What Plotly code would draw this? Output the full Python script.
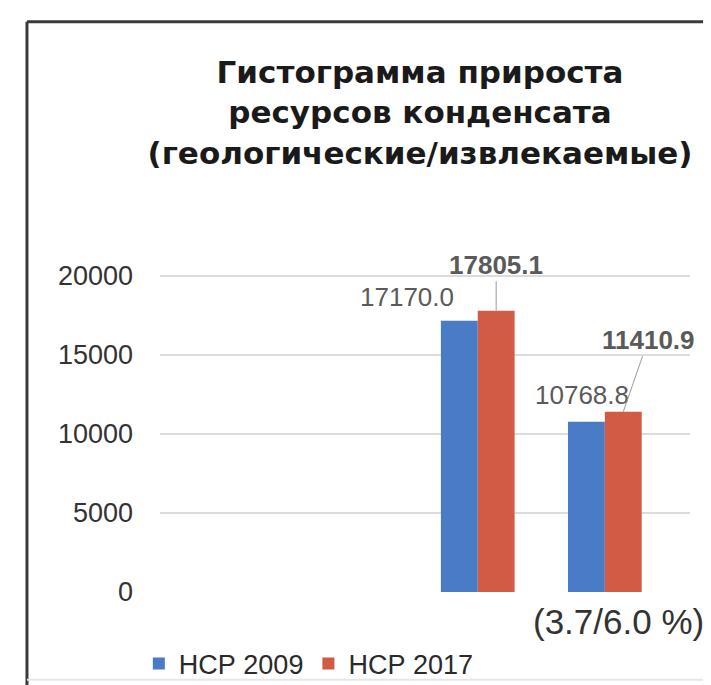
import plotly.graph_objects as go

categories = ["геологические", "извлекаемые"]
series_names = ["НСР 2009", "НСР 2017"]
values_2009 = [17170.0, 10768.8]
values_2017 = [17805.1, 11410.9]
tick_vals = [0, 5000, 10000, 15000, 20000]
tick_text = ["0", "5000", "10000", "15000", "20000"]
title_text = "Гистограмма прироста<br>ресурсов конденсата<br>(геологические/извлекаемые)"
note_text = "(3.7/6.0 %)"

blue = "#4a7bc6"
red = "#d25b45"
bargap = 0.42
w = (1 - bargap) / 2

fig = go.Figure()
fig.add_trace(go.Bar(x=categories, y=values_2009, name=series_names[0],
                     marker=dict(color=blue, line=dict(width=0))))
fig.add_trace(go.Bar(x=categories, y=values_2017, name=series_names[1],
                     marker=dict(color=red, line=dict(width=0))))

lab_font = dict(family="Liberation Sans, Arial, sans-serif", size=26, color="#5a5a5a")
# blue labels
for i, v in enumerate(values_2009):
    shifts = [(-52, 24), (-4, 27)][i]
    fig.add_annotation(x=i - w / 2, y=v, xref="x", yref="y", text=f"{v:.1f}",
                       showarrow=False, xshift=shifts[0], yshift=shifts[1],
                       font=lab_font)
# red labels (bold, with leader lines)
for i, v in enumerate(values_2017):
    off = [(0, -46), (25, -72)][i]
    fig.add_annotation(x=i + w / 2, y=v, xref="x", yref="y", text=f"<b>{v:.1f}</b>",
                       showarrow=True, arrowhead=0, arrowwidth=1, arrowcolor="#9a9a9a",
                       ax=off[0], ay=off[1], font=lab_font, standoff=0)

fig.add_annotation(x=1.030, y=-0.084, xref="paper", yref="paper", text=note_text,
                   showarrow=False, xanchor="right", yanchor="middle",
                   font=dict(family="Liberation Sans, Arial, sans-serif", size=35, color="#333333"))

# outer frame (left and top dark, bottom light)
fig.add_shape(type="line", xref="paper", yref="paper", x0=-0.251, x1=-0.251, y0=-0.3, y1=1.597,
              line=dict(color="#3a3a3a", width=3), layer="below")
fig.add_shape(type="line", xref="paper", yref="paper", x0=-0.251, x1=1.1, y0=1.597, y1=1.597,
              line=dict(color="#3a3a3a", width=3), layer="below")
fig.add_shape(type="line", xref="paper", yref="paper", x0=-0.251, x1=1.1, y0=-0.246, y1=-0.246,
              line=dict(color="#e6e6e6", width=2), layer="below")

fig.update_layout(
    width=711, height=685,
    margin=dict(l=152, r=29, t=227, b=101),
    paper_bgcolor="white", plot_bgcolor="white",
    barmode="group", bargap=bargap, bargroupgap=0,
    title=dict(text="<b>" + title_text + "</b>", x=0.5795, xref="container", xanchor="center",
               y=0.8905, yref="container", yanchor="middle",
               font=dict(family="DejaVu Sans, Liberation Sans, Arial, sans-serif",
                         size=31, color="#1a1a1a")),
    xaxis=dict(range=[-2.5, 1.67], showticklabels=False, showgrid=False,
               zeroline=False, showline=False, ticks=""),
    yaxis=dict(range=[0, 22595], tickvals=tick_vals, ticktext=tick_text, showgrid=True,
               gridcolor="#dcdcdc", gridwidth=2, zeroline=False, showline=False,
               ticklabelstandoff=26, automargin=False,
               tickfont=dict(family="Liberation Sans, Arial, sans-serif", size=27, color="#333333")),
    legend=dict(orientation="h", xref="container", yref="container",
                x=0.184, xanchor="left", y=0.0423, yanchor="middle",
                font=dict(family="Liberation Sans, Arial, sans-serif", size=27, color="#2a2a2a"),
                itemwidth=30, tracegroupgap=0, bgcolor="rgba(0,0,0,0)"),
    showlegend=True,
)

fig.write_html("out.html")
